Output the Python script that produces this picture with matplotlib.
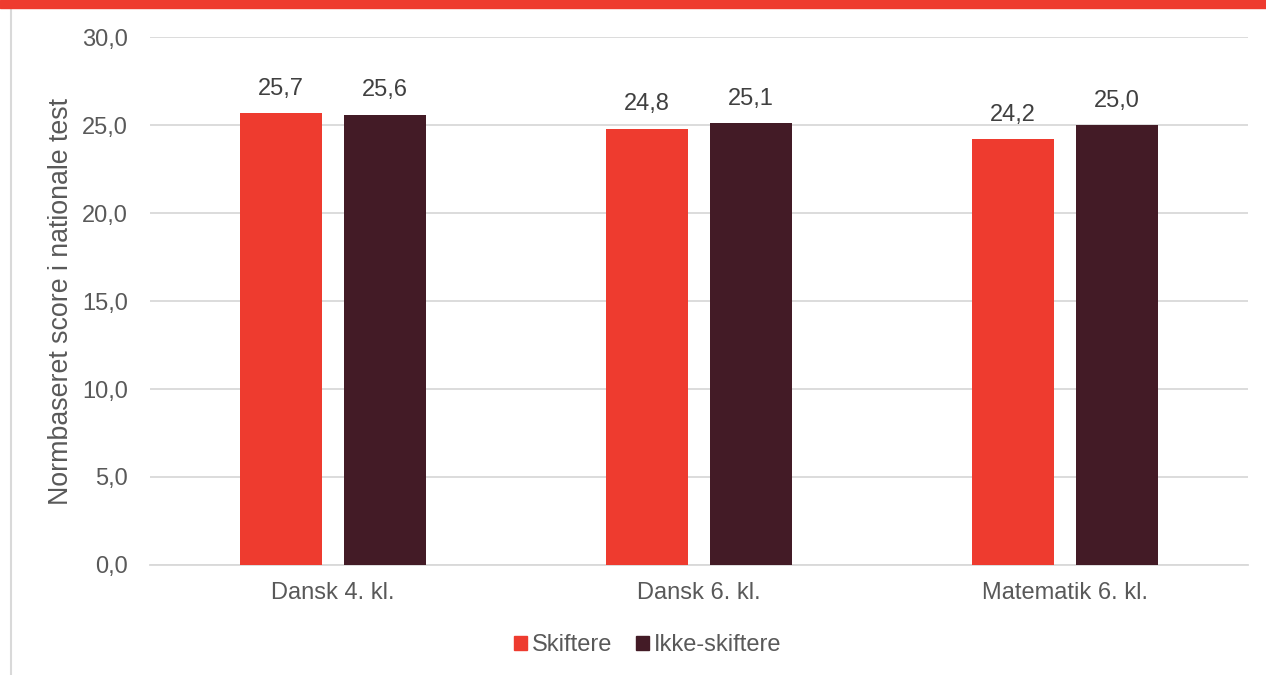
import matplotlib.pyplot as plt
import numpy as np
from matplotlib.lines import Line2D
from matplotlib.patches import Rectangle

plt.rcParams['font.family'] = ['Liberation Sans', 'DejaVu Sans']

categories = ["Dansk 4. kl.", "Dansk 6. kl.", "Matematik 6. kl."]
skiftere = [25.7, 24.8, 24.2]
ikke_skiftere = [25.6, 25.1, 25.0]
series_names = ["Skiftere", "Ikke-skiftere"]
yticks = [0, 5, 10, 15, 20, 25, 30]

RED = '#EE3B2F'
DARK = '#431B26'
GREY = '#595959'
FS = 17

fig = plt.figure(figsize=(12.66, 6.75), dpi=100)
ax = fig.add_axes([0.1185, 0.163, 0.8675, 0.782])

x = np.arange(len(categories))
off = 0.142
w = 0.224
b1 = ax.bar(x - off, skiftere, w, color=RED, label=series_names[0], zorder=3)
b2 = ax.bar(x + off, ikke_skiftere, w, color=DARK, label=series_names[1], zorder=3)

for bars in (b1, b2):
    for r in bars:
        ax.text(r.get_x() + r.get_width() / 2, r.get_height() + 0.75,
                f"{r.get_height():.1f}".replace('.', ','),
                ha='center', va='bottom', fontsize=FS, color='#404040')

ax.set_xlim(-0.5, 2.5)
ax.set_ylim(0, 30)
ax.set_yticks(yticks)
ax.set_yticklabels([f"{v:.1f}".replace('.', ',') for v in yticks])
ax.set_xticks(x)
ax.set_xticklabels(categories)
ax.tick_params(axis='both', length=0, labelsize=FS, labelcolor=GREY)
ax.tick_params(axis='y', pad=16)
ax.tick_params(axis='x', pad=12)
ax.yaxis.grid(True, color='#D9D9D9', linewidth=1.3, zorder=0)
for s in ['top', 'right', 'left']:
    ax.spines[s].set_visible(False)
ax.spines['bottom'].set_color('#D9D9D9')
ax.spines['bottom'].set_linewidth(1.3)

ax.set_ylabel("Normbaseret score i nationale test", fontsize=19.3, color=GREY)
ax.yaxis.set_label_coords(-0.069, 0.5)

handles = [Rectangle((0, 0), 1, 1, color=RED), Rectangle((0, 0), 1, 1, color=DARK)]
fig.legend(handles, series_names, loc='center', bbox_to_anchor=(0.5115, 0.044),
           ncol=2, frameon=False, fontsize=FS, labelcolor=GREY,
           handlelength=0.55, handleheight=0.55, handletextpad=0.2, columnspacing=1.0)

# red band on top and thin grey border on the left
fig.patches.append(Rectangle((0, 0.988), 1, 0.012, transform=fig.transFigure,
                             color=RED, zorder=5))
fig.lines.append(Line2D([0.0085, 0.0085], [0, 0.988], transform=fig.transFigure,
                        color='#D9D9D9', linewidth=1.5))

fig.savefig("out.png", dpi=100)
